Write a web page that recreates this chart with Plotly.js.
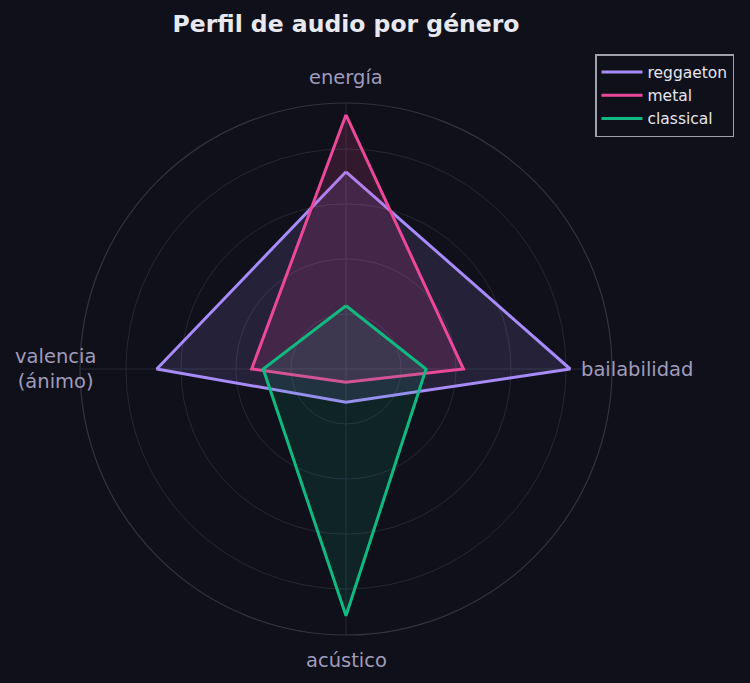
<!DOCTYPE html>
<html>
<head>
<meta charset="utf-8">
<script src="https://cdn.plot.ly/plotly-3.0.1.min.js"></script>
<style>
  html, body { margin: 0; padding: 0; background: #0f1019; }
  #chart { width: 750px; height: 683px; }
</style>
</head>
<body>
<div id="chart"></div>
<script>
// ejes del radar (sentido horario desde arriba)
var categories = ["energía", "bailabilidad", "acústico", "valencia<br>(ánimo)"];

var reggaeton = [0.717, 0.815, 0.121, 0.688];
var metal = [0.924, 0.427, 0.048, 0.343];
var classical = [0.230, 0.291, 0.897, 0.301];

var genres = ["reggaeton", "metal", "classical"];
var line_colors = ["#a78bfa", "#ec4899", "#10b981"];
var fill_colors = ["rgba(167,139,250,0.14)", "rgba(236,72,153,0.16)", "rgba(16,185,129,0.12)"];

var r_ticks = [0.2, 0.4, 0.6, 0.8];

const W = 750, H = 683;
// caja del polar en pixeles
const px_left = 80, px_right = 612, px_top = 103, px_bottom = 635;
const cx = (px_left + px_right) / 2, cy = (px_top + px_bottom) / 2;
const label_radius = 291;

function closed(arr) {
    return arr.concat([arr[0]]);
}

var series = [reggaeton, metal, classical];
var data = [];
for (let i = 0; i < series.length; i++) {
    // relleno sin linea, luego la linea encima (asi la leyenda queda solo con la linea)
    data.push({
        type: 'scatterpolar',
        r: closed(series[i]),
        theta: closed(categories),
        mode: 'none',
        fill: 'toself',
        fillcolor: fill_colors[i],
        showlegend: false,
        hoverinfo: 'skip'
    });
    data.push({
        type: 'scatterpolar',
        r: closed(series[i]),
        theta: closed(categories),
        name: genres[i],
        mode: 'lines',
        line: { color: line_colors[i], width: 3 },
        hoverinfo: 'name+r'
    });
}

// etiquetas de los ejes, centradas a radio fijo (como matplotlib)
var annotations = [];
for (let i = 0; i < categories.length; i++) {
    let ang = (90 - i * 360 / categories.length) * Math.PI / 180;
    let x = cx + label_radius * Math.cos(ang);
    let y = cy - label_radius * Math.sin(ang);
    annotations.push({
        text: categories[i],
        xref: 'paper', yref: 'paper',
        x: x / W, y: 1 - y / H,
        xanchor: 'center', yanchor: 'middle',
        showarrow: false,
        align: 'center',
        font: { family: 'DejaVu Sans', size: 19.5, color: '#a09cbc' }
    });
}

var layout = {
    width: W,
    height: H,
    paper_bgcolor: '#0f1019',
    plot_bgcolor: '#0f1019',
    margin: { l: 0, r: 0, t: 0, b: 0 },
    font: { family: 'DejaVu Sans', color: '#e5e5ee' },
    title: {
        text: 'Perfil de audio por género',
        font: { family: 'DejaVu Sans', size: 23.5, weight: 'bold', color: '#e8e8f0' },
        x: 346 / W,
        xanchor: 'center',
        y: 1 - 24 / H,
        yanchor: 'middle'
    },
    showlegend: true,
    legend: {
        x: 595 / W,
        y: 1 - 54 / H,
        xanchor: 'left',
        yanchor: 'top',
        bgcolor: '#0f1019',
        bordercolor: '#a0a0ac',
        borderwidth: 1.5,
        font: { family: 'DejaVu Sans', size: 15.5, color: '#e5e5ee' },
        itemwidth: 41,
        tracegroupgap: 0
    },
    annotations: annotations,
    polar: {
        bgcolor: '#0f1019',
        domain: { x: [px_left / W, px_right / W], y: [1 - px_bottom / H, 1 - px_top / H] },
        radialaxis: {
            range: [0, 0.967],
            tickvals: r_ticks,
            showticklabels: false,
            ticks: '',
            showline: false,
            gridcolor: '#262736',
            gridwidth: 1
        },
        angularaxis: {
            rotation: 90,
            direction: 'clockwise',
            showticklabels: false,
            ticks: '',
            showline: true,
            linecolor: '#33343f',
            linewidth: 1.2,
            gridcolor: '#262736',
            gridwidth: 1
        }
    }
};

Plotly.newPlot('chart', data, layout, { staticPlot: true, responsive: false });
</script>
</body>
</html>
